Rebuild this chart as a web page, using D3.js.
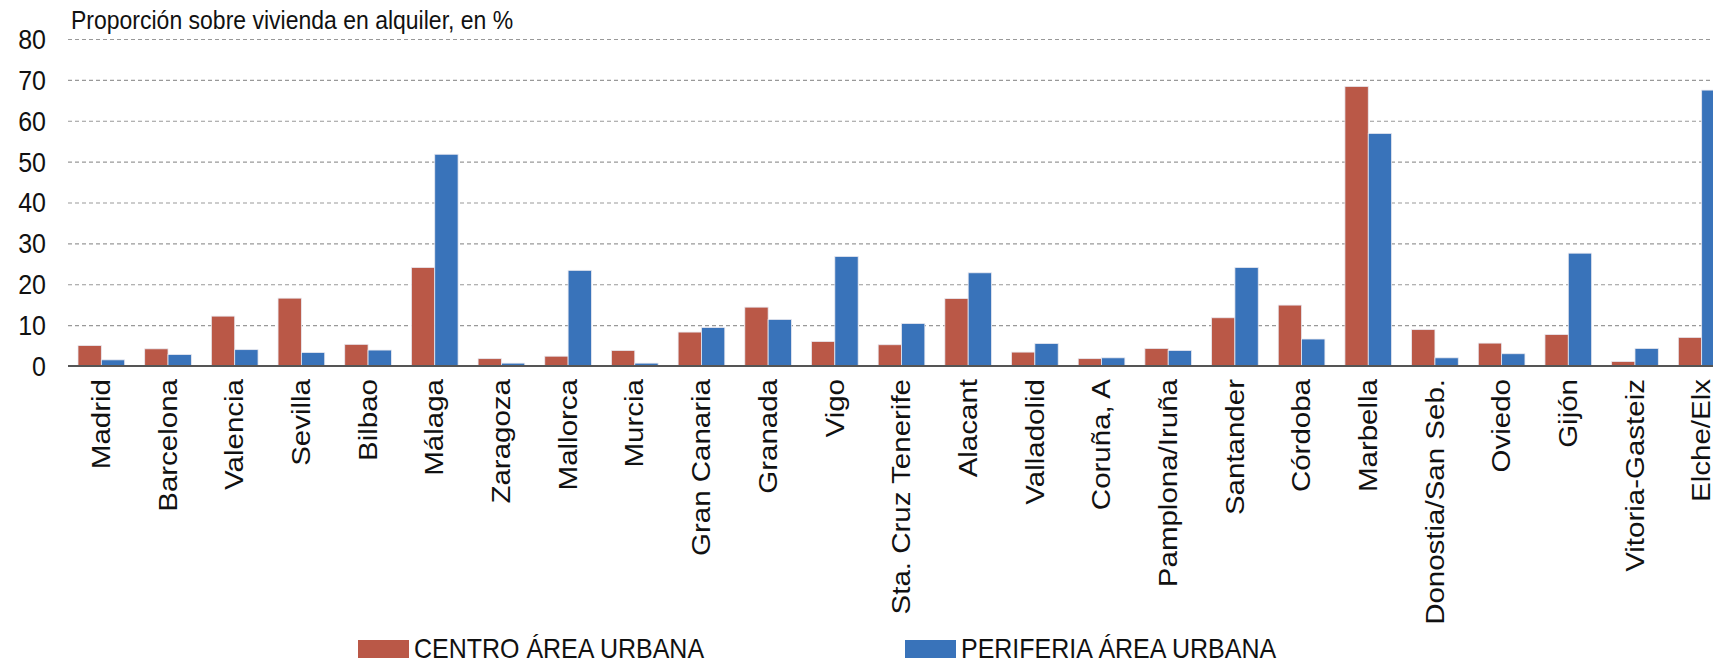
<!DOCTYPE html>
<html>
<head>
<meta charset="utf-8">
<script src="https://cdn.jsdelivr.net/npm/d3@7"></script>
<style>
  body { margin: 0; background: #fff; }
  text { font-family: "Liberation Sans", Arial, sans-serif; fill: #111; }
</style>
</head>
<body>
<div class="chart"></div>
<script>
var cities = ["Madrid", "Barcelona", "Valencia", "Sevilla", "Bilbao", "Málaga", "Zaragoza",
    "Mallorca", "Murcia", "Gran Canaria", "Granada", "Vigo", "Sta. Cruz Tenerife", "Alacant",
    "Valladolid", "Coruña, A", "Pamplona/Iruña", "Santander", "Córdoba", "Marbella",
    "Donostia/San Seb.", "Oviedo", "Gijón", "Vitoria-Gasteiz", "Elche/Elx"];

var centro = [5.0, 4.2, 12.2, 16.6, 5.3, 24.1, 1.8, 2.4, 3.8, 8.3, 14.4, 6.0, 5.2, 16.5,
    3.4, 1.8, 4.3, 11.8, 14.9, 68.4, 8.9, 5.6, 7.7, 1.1, 7.0];
var periferia = [1.5, 2.8, 4.0, 3.3, 3.9, 51.8, 0.7, 23.4, 0.7, 9.4, 11.4, 26.8, 10.4, 22.8,
    5.5, 2.0, 3.8, 24.1, 6.6, 56.9, 2.0, 3.0, 27.6, 4.3, 67.5];

var seriesNames = ["CENTRO ÁREA URBANA", "PERIFERIA ÁREA URBANA"];
var seriesColors = ["#BA5847", "#3973BA"];
var yTicks = [0, 10, 20, 30, 40, 50, 60, 70, 80];

var width = 1713;
var height = 663;
var stretch = 1.09;      // text in the reference is a bit taller than wide
var labelStretch = 1.18;

var rows = cities.map(function(c, i) {
    return { city: c, values: [centro[i], periferia[i]] };
});

var x = d3.scaleBand()
    .domain(cities)
    .range([68, 1735])
    .paddingInner(0.3)
    .paddingOuter(0.15);

var x1 = d3.scaleBand()
    .domain([0, 1])
    .range([0, x.bandwidth()]);

var y = d3.scaleLinear()
    .domain([0, 80])
    .range([366, 39]);

var svg = d3.select(".chart")
    .append("svg")
    .attr("width", width)
    .attr("height", height);

// gridlines
svg.append("g")
    .selectAll("line")
    .data(yTicks.filter(function(d) { return d > 0; }))
    .enter().append("line")
    .attr("x1", 68)
    .attr("x2", width)
    .attr("y1", function(d) { return y(d) + 0.5; })
    .attr("y2", function(d) { return y(d) + 0.5; })
    .attr("stroke", "#999")
    .attr("stroke-width", 1.2)
    .attr("stroke-dasharray", "4,3");

// y labels
var yAxis = d3.axisLeft(y).tickValues(yTicks).tickSize(0).tickPadding(0);
var gy = svg.append("g")
    .attr("transform", "translate(46,0)")
    .call(yAxis);
gy.select(".domain").remove();
gy.selectAll("text")
    .attr("x", 0)
    .attr("dy", null)
    .attr("dominant-baseline", "central")
    .attr("transform", "scale(1," + stretch + ")")
    .style("font-size", "25px")
    .style("font-family", "'Liberation Sans', Arial, sans-serif")
    .attr("fill", "#111");

// bars
var groups = svg.append("g")
    .selectAll("g")
    .data(rows)
    .enter().append("g")
    .attr("transform", function(d) { return "translate(" + x(d.city) + ",0)"; });

groups.selectAll("rect")
    .data(function(d) { return d.values; })
    .enter().append("rect")
    .attr("x", function(d, i) { return x1(i); })
    .attr("y", function(d) { return y(d); })
    .attr("width", x1.bandwidth())
    .attr("height", function(d) { return y(0) - y(d); })
    .attr("fill", function(d, i) { return seriesColors[i]; })
    .attr("stroke", "#e9e9f0")
    .attr("stroke-width", 0.8);

// baseline
svg.append("line")
    .attr("x1", 68)
    .attr("x2", width)
    .attr("y1", y(0))
    .attr("y2", y(0))
    .attr("stroke", "#555")
    .attr("stroke-width", 2);

// category labels (rotated)
svg.append("g")
    .selectAll("text")
    .data(cities)
    .enter().append("text")
    .attr("transform", function(d) {
        return "translate(" + (x(d) + x.bandwidth() / 2) + ",379) rotate(-90) scale(" + labelStretch + ",1)";
    })
    .attr("text-anchor", "end")
    .attr("dominant-baseline", "central")
    .style("font-size", "25px")
    .text(function(d) { return d; });

// title
svg.append("text")
    .attr("transform", "translate(71,29) scale(1," + stretch + ")")
    .style("font-size", "23px")
    .text("Proporción sobre vivienda en alquiler, en %");

// legend
var legendX = [358, 905];
var legend = svg.append("g")
    .selectAll("g")
    .data(seriesNames)
    .enter().append("g")
    .attr("transform", function(d, i) { return "translate(" + legendX[i] + ",640)"; });

legend.append("rect")
    .attr("width", 51)
    .attr("height", 18)
    .attr("fill", function(d, i) { return seriesColors[i]; });

legend.append("text")
    .attr("transform", "translate(56,18) scale(1," + stretch + ")")
    .style("font-size", "25px")
    .text(function(d) { return d; });
</script>
</body>
</html>
